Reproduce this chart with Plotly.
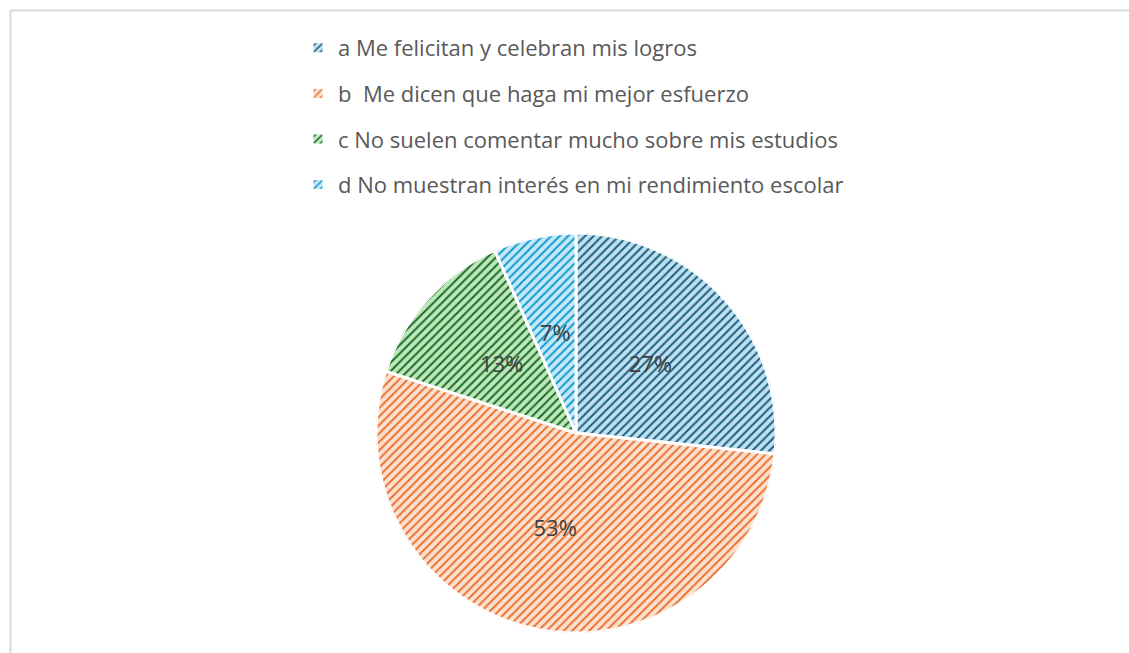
import plotly.graph_objects as go

# respuestas (15 estudiantes)
labels = [
    "a Me felicitan y celebran mis logros",
    "b  Me dicen que haga mi mejor esfuerzo",
    "c No suelen comentar mucho sobre mis estudios",
    "d No muestran interés en mi rendimiento escolar",
]
counts = [4, 8, 2, 1]
stripe_colors = ["#1B5E7E", "#E97132", "#1C6A26", "#1399D0"]
fill_colors = ["#BFE0EF", "#FCE1D0", "#BDE8BB", "#C4E9F8"]

W, H = 1129, 653
total = sum(counts)

# slice geometry in degrees (clockwise from 12 o'clock)
widths = [360 * c / total for c in counts]
mids = []
acc = 0
for w in widths:
    mids.append(acc + w / 2)
    acc += w
pct_text = [f"{round(100 * c / total)}%" for c in counts]

fig = go.Figure()

# the pie, one wedge per trace so every slice gets its own legend entry
for lab, c, w, m, fg, bg in zip(labels, counts, widths, mids, stripe_colors, fill_colors):
    fig.add_trace(
        go.Barpolar(
            r=[1],
            theta=[m],
            width=[w],
            name=lab,
            legendgroup=lab,
            marker=dict(
                color=bg,
                line=dict(color="white", width=3),
                pattern=dict(shape="/", fgcolor=fg, bgcolor=bg,
                             fillmode="replace", size=6, solidity=0.32),
            ),
            hovertemplate=f"{lab}: {c}<extra></extra>",
        )
    )

# percentage labels at half radius
fig.add_trace(
    go.Scatterpolar(
        r=[0.5] * len(counts),
        theta=mids,
        mode="text",
        text=pct_text,
        textfont=dict(color="#404040", size=22, family="Open Sans"),
        showlegend=False,
        hoverinfo="skip",
    )
)

fig.update_layout(
    width=W,
    height=H,
    margin=dict(l=0, r=0, t=0, b=0),
    paper_bgcolor="white",
    font=dict(family="Open Sans", color="#595959"),
    polar=dict(
        domain=dict(x=[376 / W, 776 / W], y=[20 / H, 420 / H]),
        bgcolor="rgba(0,0,0,0)",
        hole=0,
        angularaxis=dict(rotation=90, direction="clockwise", visible=False),
        radialaxis=dict(range=[0, 1], visible=False),
    ),
    legend=dict(
        x=298 / W,
        xanchor="left",
        y=1 - 27 / H,
        yanchor="top",
        font=dict(size=22, color="#595959", family="Open Sans"),
        tracegroupgap=14,
        bgcolor="rgba(0,0,0,0)",
    ),
    showlegend=True,
)

# chart area frame (top and left edges visible)
fig.add_shape(type="line", xref="paper", yref="paper",
              x0=10.5 / W, x1=1, y0=1 - 10.5 / H, y1=1 - 10.5 / H,
              line=dict(color="#D9D9D9", width=2))
fig.add_shape(type="line", xref="paper", yref="paper",
              x0=10.5 / W, x1=10.5 / W, y0=0, y1=1 - 10.5 / H,
              line=dict(color="#D9D9D9", width=2))

fig.write_html("out.html", config={"displayModeBar": False},
               post_script="document.body.style.margin='0';")
